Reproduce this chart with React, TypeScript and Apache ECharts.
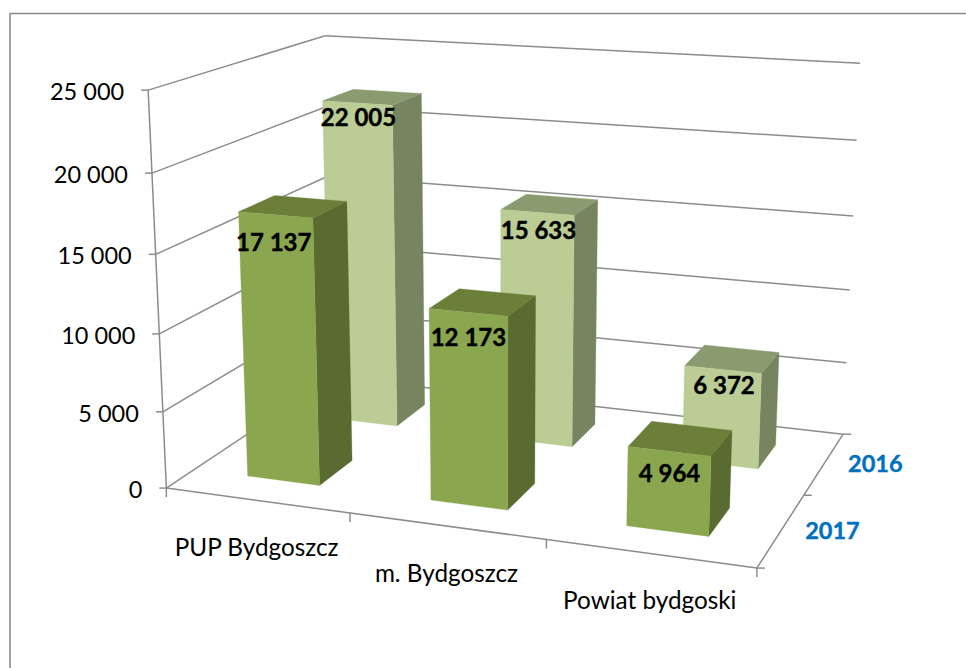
import React, { useEffect, useRef } from "react";
import * as echarts from "echarts";

const categories = ["PUP Bydgoszcz", "m. Bydgoszcz", "Powiat bydgoski"];
const years = ["2017", "2016"];
const values2017 = [17137, 12173, 4964];
const values2016 = [22005, 15633, 6372];
const yTicks = [0, 5000, 10000, 15000, 20000, 25000];
const yTickLabels = ["0", "5 000", "10 000", "15 000", "20 000", "25 000"];
const valueMax = 25000;

// Layout of the perspective box: cube corner (u, v, w) -> picture pixel
const fitPoints: number[][] = [
  [0, 0, 0, 166, 488], [0, 1, 0, 148, 90], [0, 0, 1, 333, 377], [0, 1, 1, 325, 36],
  [1, 0, 1, 843, 434], [1, 1, 1, 860, 63], [1, 0, 0, 757, 568],
  [0, 0.2, 0, 163, 412], [0, 0.4, 0, 159.5, 334], [0, 0.6, 0, 156, 254], [0, 0.8, 0, 152, 173],
  [1, 0.2, 1, 847, 363], [1, 0.4, 1, 850, 290], [1, 0.6, 1, 853, 216], [1, 0.8, 1, 856.6, 140.7],
  [1 / 3, 0, 0, 350, 513], [2 / 3, 0, 0, 546.5, 540], [1, 0, 0.5, 803, 495],
];

function fitCamera(points: number[][]) {
  const n = 11;
  const A: number[][] = Array.from({ length: n }, () => new Array(n + 1).fill(0));
  const add = (row: number[], rhs: number) => {
    for (let i = 0; i < n; i++) {
      for (let j = 0; j < n; j++) A[i][j] += row[i] * row[j];
      A[i][n] += row[i] * rhs;
    }
  };
  for (const [u, v, w, x, y] of points) {
    add([u, v, w, 1, 0, 0, 0, 0, -x * u, -x * v, -x * w], x);
    add([0, 0, 0, 0, u, v, w, 1, -y * u, -y * v, -y * w], y);
  }
  for (let c = 0; c < n; c++) {
    let best = c;
    for (let r = c + 1; r < n; r++) if (Math.abs(A[r][c]) > Math.abs(A[best][c])) best = r;
    [A[c], A[best]] = [A[best], A[c]];
    for (let r = 0; r < n; r++) {
      if (r === c) continue;
      const f = A[r][c] / A[c][c];
      for (let k = c; k <= n; k++) A[r][k] -= f * A[c][k];
    }
  }
  return A.map((row, i) => row[n] / row[i]);
}
const P = fitCamera(fitPoints);
function project(u: number, v: number, w: number): [number, number] {
  const d = P[8] * u + P[9] * v + P[10] * w + 1;
  return [
    (P[0] * u + P[1] * v + P[2] * w + P[3]) / d,
    (P[4] * u + P[5] * v + P[6] * w + P[7]) / d,
  ];
}

const GRID = 300;
const LINE = "#8c8c8c";
const LW = 1.5;
const FONT = "Lato, 'Open Sans', sans-serif";
const SIZE_TICK = 23.5;
const SIZE_CAT = 24.3;
const SIZE_BOLD = 24;

const barHalfFraction = 0.2;
const depthBand = 0.5;
const colors2017 = { front: "#8aa64e", side: "#5a6b31", top: "#6b7f39" };
const colors2016 = { front: "#bbcd94", side: "#76845f", top: "#8b9b70" };
const labelDrop: Record<string, number[]> = { "2017": [27, 24, 21], "2016": [13, 17, 15] };
const labelShift: Record<string, number[]> = { "2017": [-2, 0, 0], "2016": [1, 1, 1] };

const seg = (a: number[], b: number[], extra: any = {}) => ({
  type: "line",
  silent: true,
  shape: { x1: a[0], y1: a[1], x2: b[0], y2: b[1] },
  style: { stroke: LINE, lineWidth: LW, ...extra },
});
const txt = (text: string, x: number, y: number, align: string, fontSize: number, fill = "#000", bold = false) => ({
  type: "text",
  silent: true,
  style: {
    text, x, y, align, verticalAlign: "middle", fill, fontFamily: FONT, fontSize,
    fontWeight: bold ? "bold" : "normal",
    ...(bold ? { stroke: fill, lineWidth: 0.4 } : {}),
  },
});
const valueFromPixel = (py: number) => (GRID - py) / GRID;

function barSeries(name: string, values: number[], depthIndex: number, col: any) {
  return {
    type: "custom",
    name,
    silent: true,
    clip: false,
    z: 10 + (1 - depthIndex),
    data: values.map((v, i) => [i, v]),
    renderItem: (_: any, api: any) => {
      const i = api.value(0);
      const [px, py] = api.coord([i, api.value(1)]);
      const half = (api.size([1, 0])[0] * barHalfFraction) / GRID;
      const u0 = px / GRID - half;
      const u1 = px / GRID + half;
      const v = valueFromPixel(py);
      const w0 = depthBand * (depthIndex + 0.3);
      const w1 = depthBand * (depthIndex + 0.7);
      const f00 = project(u0, 0, w0), f10 = project(u1, 0, w0);
      const f01 = project(u0, v, w0), f11 = project(u1, v, w0);
      const b10 = project(u1, 0, w1), b01 = project(u0, v, w1), b11 = project(u1, v, w1);
      const poly = (points: number[][], fill: string) => ({
        type: "polygon", silent: true, shape: { points }, style: { fill, stroke: fill, lineWidth: 0.3 },
      });
      const raw = values[i];
      return {
        type: "group",
        children: [
          poly([f10, b10, b11, f11], col.side),
          poly([f01, f11, b11, b01], col.top),
          poly([f00, f10, f11, f01], col.front),
          txt(
            String(raw).replace(/\B(?=(\d{3})+$)/g, " "),
            (f01[0] + f11[0]) / 2 + labelShift[name][i],
            (f01[1] + f11[1]) / 2 + labelDrop[name][i],
            "center",
            SIZE_BOLD,
            "#000",
            true
          ),
        ],
      };
    },
  };
}

export default function App() {
  const ref = useRef<HTMLDivElement>(null);
  useEffect(() => {
    document.body.style.margin = "0";
    document.body.style.background = "#fff";
    const chart = echarts.init(ref.current!, undefined, { renderer: "svg" });
    chart.setOption({
      animation: false,
      backgroundColor: "#ffffff",
      graphic: [
        {
          type: "polyline",
          silent: true,
          shape: { points: [[10, 668], [10, 13.5], [966, 13.5]] },
          style: { stroke: "#868686", lineWidth: 1.5, fill: "none" },
        },
      ],
      grid: { left: 0, top: 0, width: GRID, height: GRID, show: false },
      xAxis: { type: "category", data: categories, show: false },
      yAxis: { type: "value", min: 0, max: valueMax, interval: 5000, show: false },
      series: [
        {
          type: "custom",
          name: "grid",
          silent: true,
          clip: false,
          z: 1,
          data: yTicks.map((t) => [0, t]),
          renderItem: (params: any, api: any) => {
            const py = api.coord([0, api.value(1)])[1];
            const v = valueFromPixel(py);
            const front = project(0, v, 0);
            const back = project(0, v, 1);
            const right = project(1, v, 1);
            return {
              type: "group",
              children: [
                seg(front, back),
                seg(back, right),
                seg([front[0] - 7, front[1]], front),
                txt(yTickLabels[params.dataIndex], front[0] - 24, front[1] + 1, "right", SIZE_TICK),
              ],
            };
          },
        },
        {
          type: "custom",
          name: "axes",
          silent: true,
          clip: false,
          z: 2,
          data: [[0, 0]],
          renderItem: (_: any, api: any) => {
            const top = valueFromPixel(api.coord([0, valueMax])[1]);
            const a = project(0, 0, 0), b = project(1, 0, 0), c = project(1, 0, 1);
            return {
              type: "group",
              children: [seg(project(0, top, 0), a), seg(a, b), seg(b, c)],
            };
          },
        },
        {
          type: "custom",
          name: "categories",
          silent: true,
          clip: false,
          z: 3,
          data: categories.map((_, i) => [i, 0]),
          renderItem: (params: any, api: any) => {
            const px = api.coord([api.value(0), 0])[0];
            const band = api.size([1, 0])[0];
            const mid = project(px / GRID, 0, 0);
            const left = project((px - band / 2) / GRID, 0, 0);
            const right = project((px + band / 2) / GRID, 0, 0);
            const children: any[] = [
              seg(right, [right[0], right[1] + 9]),
              txt(categories[params.dataIndex], mid[0], mid[1] + 46, "center", SIZE_CAT),
            ];
            if (params.dataIndex === 0) children.push(seg(left, [left[0], left[1] + 9]));
            return { type: "group", children };
          },
        },
        {
          type: "custom",
          name: "years",
          silent: true,
          clip: false,
          z: 3,
          data: years.map((_, i) => [i, 0]),
          renderItem: (params: any) => {
            const i = params.dataIndex;
            const mid = project(1, 0, depthBand * (i + 0.5));
            const start = project(1, 0, depthBand * i);
            const end = project(1, 0, depthBand * (i + 1));
            const children: any[] = [
              seg(end, [end[0] + 8, end[1]]),
              txt(years[i], mid[0] + 51, mid[1], "center", SIZE_TICK, "#0070c0", true),
            ];
            if (i === 0) children.push(seg(start, [start[0] + 8, start[1]]));
            return { type: "group", children };
          },
        },
        barSeries("2016", values2016, 1, colors2016),
        barSeries("2017", values2017, 0, colors2017),
      ],
    });
    return () => chart.dispose();
  }, []);
  return <div ref={ref} style={{ position: "absolute", left: 0, top: 0, width: 966, height: 668 }} />;
}
